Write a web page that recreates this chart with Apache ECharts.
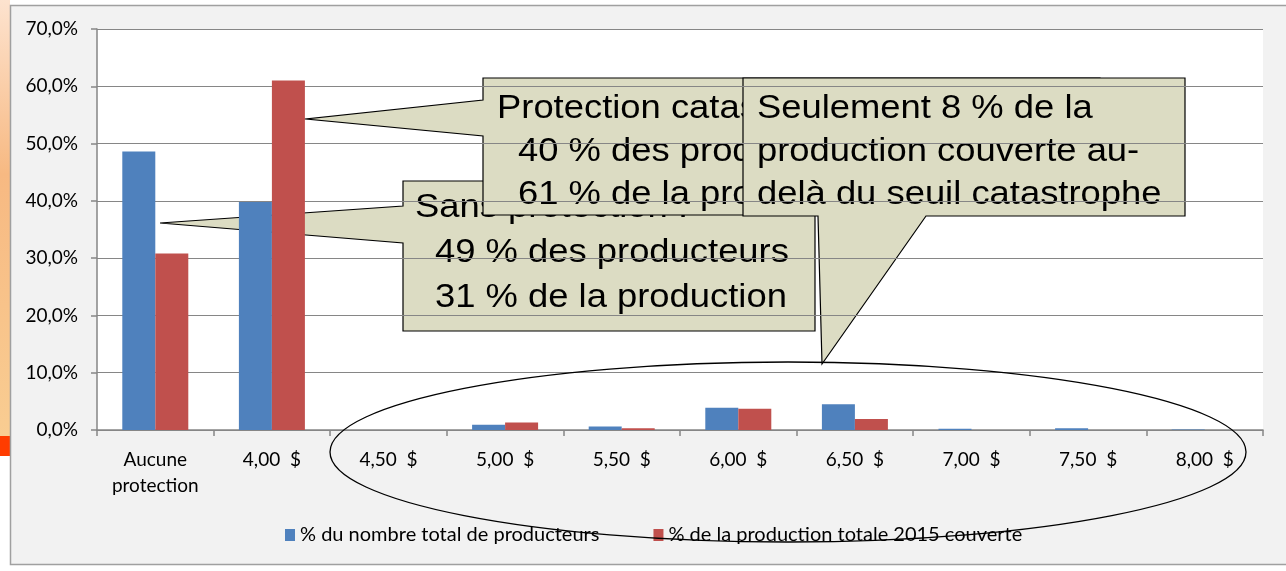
<!DOCTYPE html>
<html>
<head>
<meta charset="utf-8">
<script src="https://cdn.jsdelivr.net/npm/echarts@6/dist/echarts.min.js"></script>
<style>
  html, body { margin: 0; padding: 0; background: #fff; }
  #chart { width: 1286px; height: 571px; }
</style>
</head>
<body>
<div id="chart"></div>
<script>
// données (en %)
var categories = ['Aucune\nprotection', '4,00  $', '4,50  $', '5,00  $', '5,50  $', '6,00  $', '6,50  $', '7,00  $', '7,50  $', '8,00  $']
var producteurs = [48.6, 39.8, 0, 0.9, 0.6, 3.9, 4.5, 0.2, 0.3, 0.1]
var production = [30.8, 61.0, 0, 1.3, 0.3, 3.7, 1.9, 0, 0, 0]
var seriesNames = ['% du nombre total de producteurs', '% de la production totale 2015 couverte']
var yMax = 70
var yStep = 10

var chart = echarts.init(document.getElementById('chart'))

var calloutFill = '#dcdcc3'
var calloutFont = '34px "Liberation Sans", Arial, sans-serif'
var labelFont = 'Lato, "Open Sans", sans-serif'

function line(text, x, y) {
  return {
    type: 'text',
    x: x,
    y: y,
    scaleX: 1.07,
    style: { text: text, font: calloutFont, fill: '#000', verticalAlign: 'middle' }
  }
}

// bulles de commentaire
function callout(points, lines, z) {
  return {
    type: 'group',
    z: z,
    children: [{
      type: 'polygon',
      shape: { points: points },
      style: { fill: calloutFill, stroke: '#000', lineWidth: 1.2 }
    }].concat(lines)
  }
}

chart.setOption({
  backgroundColor: 'transparent',
  animation: false,
  grid: {
    left: 97,
    right: 23,
    top: 29,
    bottom: 141,
    show: true,
    backgroundColor: '#fff',
    borderWidth: 0
  },
  legend: {
    data: seriesNames,
    top: 520,
    left: 280,
    icon: 'rect',
    itemWidth: 10,
    itemHeight: 12,
    itemGap: 54,
    textStyle: { fontFamily: labelFont, fontSize: 20, color: '#000' }
  },
  xAxis: {
    type: 'category',
    data: categories,
    axisLine: { lineStyle: { color: '#868686', width: 1.5 } },
    axisTick: { show: true, interval: 0, length: 6, lineStyle: { color: '#868686', width: 1.5 } },
    axisLabel: { interval: 0, margin: 17, fontFamily: labelFont, fontSize: 19, color: '#000', lineHeight: 26 }
  },
  yAxis: {
    type: 'value',
    min: 0,
    max: yMax,
    interval: yStep,
    axisLine: { show: true, lineStyle: { color: '#868686', width: 1.5 } },
    axisTick: { show: true, length: 6, inside: false, lineStyle: { color: '#868686', width: 1.5 } },
    splitLine: { lineStyle: { color: '#868686', width: 1.2 } },
    axisLabel: {
      margin: 19,
      fontFamily: labelFont,
      fontSize: 19,
      color: '#000',
      formatter: function (v) { return v.toFixed(1).replace('.', ',') + '%' }
    }
  },
  series: [{
    name: seriesNames[0],
    type: 'bar',
    data: producteurs,
    barWidth: 33,
    barGap: '0%',
    itemStyle: { color: '#4f81bd' }
  }, {
    name: seriesNames[1],
    type: 'bar',
    data: production,
    barWidth: 33,
    itemStyle: { color: '#c0504d' }
  }],
  graphic: [
    // cadre et bandeau gauche
    {
      type: 'rect',
      z: -10,
      shape: { x: 0, y: 0, width: 10, height: 436 },
      style: {
        fill: new echarts.graphic.LinearGradient(0, 0, 0, 1, [
          { offset: 0, color: '#fde3cf' },
          { offset: 0.4, color: '#f7b982' },
          { offset: 1, color: '#f9cd92' }
        ])
      }
    },
    { type: 'rect', z: -10, shape: { x: 0, y: 436, width: 10, height: 20 }, style: { fill: '#ff3c00' } },
    {
      type: 'rect',
      z: -5,
      shape: { x: 10.5, y: 5.5, width: 1290, height: 559 },
      style: { fill: '#f2f2f2', stroke: '#a0a0a0', lineWidth: 1.5 }
    },
    callout(
      [[403, 181], [815, 181], [815, 331], [403, 331], [403, 243], [160, 223], [403, 206]],
      [line('Sans protection :', 415, 208), line('49 % des producteurs', 435, 253), line('31 % de la production', 435, 298)],
      100
    ),
    callout(
      [[483, 78], [1100, 78], [1100, 215], [483, 215], [483, 136], [306, 119], [483, 100]],
      [line('Protection catastrophe :', 497, 109), line('40 % des producteurs', 518, 152), line('61 % de la production', 518, 195)],
      110
    ),
    callout(
      [[743, 78], [1185, 78], [1185, 216], [926, 216], [822, 364], [818, 216], [743, 216]],
      [line('Seulement 8 % de la', 757, 109), line('production couverte au-', 757, 152), line('delà du seuil catastrophe', 757, 195)],
      120
    ),
    {
      type: 'ellipse',
      z: 130,
      shape: { cx: 788, cy: 452, rx: 458, ry: 90 },
      style: { fill: null, stroke: '#000', lineWidth: 1.3 }
    }
  ]
})
</script>
</body>
</html>
